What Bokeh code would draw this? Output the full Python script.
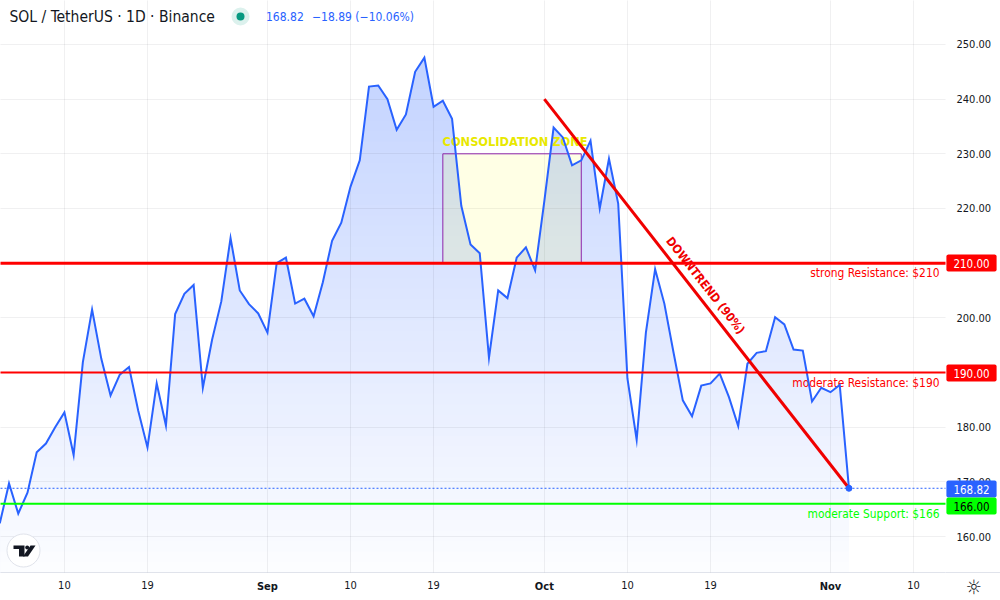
import numpy as np
from bokeh.plotting import figure
from bokeh.layouts import column
from bokeh.models import Label, FixedTicker
from bokeh.embed import file_html
from bokeh.resources import INLINE

# ---- data (day 0 = 3 Aug) ----
prices = [162.4,169.7,164.2,168.0,175.4,177.0,180.0,182.7,174.9,191.9,201.5,192.5,185.8,189.6,191.0,183.0,
          176.3,188.0,180.3,200.7,204.4,206.0,187.2,196.0,203.0,214.6,205.0,202.5,200.8,197.3,210.0,211.0,
          202.6,203.5,200.3,206.5,214.1,217.4,224.0,228.8,242.3,242.5,240.0,234.4,237.2,245.0,247.6,238.6,
          239.7,236.4,220.5,213.4,211.8,192.7,205.0,203.6,211.0,212.9,208.7,221.4,234.8,233.0,227.9,228.8,
          232.4,220.0,229.1,220.9,188.9,177.7,197.3,208.9,202.6,193.6,184.9,182.0,187.6,188.0,189.8,185.5,
          180.2,191.6,193.6,193.9,200.1,198.8,194.2,194.0,184.7,187.2,186.4,187.71,168.82]
x_ticks = [7,16,29,38,47,59,68,77,90,99]
x_labels = ["10","19","Sep","10","19","Oct","10","19","Nov","10"]
y_ticks = [160,170,180,190,200,210,220,230,240,250]
trend_x = [59,92]
trend_y = [240,168.82]
zone_x = [48,63]
zone_y = [210,230]
levels = [210,190,166]
level_colors = ["#ff0000","#ff0000","#00ff00"]
level_widths = [3,2,2]
level_notes = ["strong Resistance: $210","moderate Resistance: $190","moderate Support: $166"]
last = prices[-1]

FONT = "DejaVu Sans Condensed"
DARK = "#131722"
BLUE = "#2962ff"
W, H = 1000, 600
F_R, F_B = 945, 572   # frame edges in picture pixels

def X(px): return 7 + (px - 63.9) / 9.23
def Y(py): return 160 + (536 - py) / 5.467

p = figure(width=W, height=H, output_backend="svg", toolbar_location=None,
           x_range=(X(0), X(F_R)), y_range=(Y(F_B), Y(0)),
           y_axis_location="right", min_border_left=0, min_border_top=0,
           min_border_right=W - F_R, min_border_bottom=H - F_B,
           outline_line_color=None, background_fill_color="white", border_fill_color="white")

# transparent layer over the whole picture for what lies outside the plot frame
q = figure(frame_width=W, frame_height=H, output_backend="svg", toolbar_location=None,
           x_range=(0, W), y_range=(H, 0), x_axis_type=None, y_axis_type=None,
           min_border_left=0, min_border_right=0, min_border_top=0, min_border_bottom=0,
           outline_line_color=None, background_fill_color=None, border_fill_color=None,
           margin=(-H, 0, 0, 0))
q.grid.visible = False

# axes
ax = p.xaxis[0]
ax.ticker = FixedTicker(ticks=x_ticks)
ax.major_label_overrides = {t: ("" if l in ("Sep","Oct","Nov") else l) for t, l in zip(x_ticks, x_labels)}
ax.major_tick_line_color = None
ax.minor_tick_line_color = None
ax.axis_line_color = "#e0e3eb"
ax.major_label_text_color = DARK
ax.major_label_text_font = FONT
ax.major_label_text_font_size = "11px"
ax.major_label_standoff = 2

ay = p.yaxis[0]
ay.ticker = FixedTicker(ticks=y_ticks)
ay.major_label_overrides = {t: f"{t:.2f}" for t in y_ticks}
ay.major_tick_line_color = None
ay.minor_tick_line_color = None
ay.axis_line_color = None
ay.major_label_text_color = DARK
ay.major_label_text_font = FONT
ay.major_label_text_font_size = "11px"
ay.major_label_standoff = 5

for g in (p.xgrid[0], p.ygrid[0]):
    g.grid_line_color = "#2a2e39"
    g.grid_line_alpha = 0.07
    g.level = "annotation"
p.xgrid[0].ticker = FixedTicker(ticks=x_ticks)
p.ygrid[0].ticker = FixedTicker(ticks=y_ticks)

# gradient area
days = np.arange(len(prices))
fx = np.linspace(0, days[-1], days[-1] * 8 + 1)
fy = np.interp(fx, days, prices)
N = 50
y_bot = Y(F_B)
y_top = max(prices)
for k in range(N):
    t = k / (N - 1)
    lev = y_top + (y_bot - y_top) * t
    a = 0.28 + (0.01 - 0.28) * t
    col = "#%02x%02x%02x" % (round(255 + (41 - 255) * a), round(255 + (98 - 255) * a), 255)
    p.varea(fx, y1=y_bot, y2=np.minimum(fy, lev), fill_color=col, fill_alpha=1, level="glyph")

# consolidation zone
p.quad(left=[zone_x[0]], right=[zone_x[1]], bottom=[zone_y[0]], top=[zone_y[1]],
       fill_color="#ffff00", fill_alpha=0.1, line_color="#8e24aa", line_width=1, level="overlay")

# price line
p.line(days, prices, line_color=BLUE, line_width=2, line_join="miter", level="overlay")
p.line([X(0), X(F_R)], [last, last], line_color=BLUE, line_width=1, line_dash="2 2", level="overlay")

# levels
for lv, c, w in zip(levels, level_colors, level_widths):
    p.line([X(0), X(F_R)], [lv, lv], line_color=c, line_width=w, level="overlay")

# trend line
p.line(trend_x, trend_y, line_color="#f00000", line_width=3, level="overlay")
p.scatter([days[-1]], [last], size=6, fill_color=BLUE, line_color=BLUE, level="overlay")

def lab(px, py, text, color=DARK, size="12px", align="left", style="normal", fig=p, **kw):
    l = Label(x=px, y=py, x_units="canvas", y_units="canvas", text=text, text_color=color,
              text_font=FONT, text_font_size=size, text_align=align, text_baseline="middle",
              text_font_style=style, **kw)
    fig.add_layout(l)

# month ticks
for t, l in zip(x_ticks, x_labels):
    if l in ("Sep","Oct","Nov"):
        lab(63.9 + (t - 7) * 9.23, 586, l, align="center", size="11px", style="bold", fig=q)

# header
lab(9, 16, "SOL / TetherUS · 1D · Binance", size="15.5px")
p.scatter([X(240)], [Y(16)], size=18, fill_color="#dcf1ed", line_color=None, level="overlay")
p.scatter([X(240)], [Y(16)], size=8, fill_color="#089981", line_color=None, level="overlay")
lab(265.5, 16, "168.82", color=BLUE, size="12px")
lab(311.5, 16, "−18.89 (−10.06%)", color=BLUE, size="12px")

# annotations
lab(442, 141, "CONSOLIDATION ZONE", color="#e8e800", size="12.7px", style="bold")
lab(705, 285, "DOWNTREND (90%)", color="#f00000", size="12px", align="center", style="bold",
    angle=-51.9, angle_units="deg")
for py, c, n in zip([272, 382, 513], level_colors, level_notes):
    lab(939, py, n, color=c, align="right", size="11.9px")

# price badges
for py, v, bg, fg in [(262.5, "210.00", "#ff0000", "white"), (372.5, "190.00", "#ff0000", "white"),
                      (488.5, "168.82", BLUE, "white"), (505.5, "166.00", "#00ff00", "black")]:
    lab(971, py, v, color=fg, align="center", size="11.5px", background_fill_color=bg,
        padding=(7, 4), border_radius=2, fig=q)

# logo + settings glyph
p.scatter([X(23)], [Y(550)], size=33, fill_color="white", line_color="#e0e3eb", line_width=1, level="overlay")
p.patch([X(v) for v in (13,24,24,18.5,18.5,13)], [Y(v) for v in (545,545,556,556,548.5,548.5)],
        fill_color=DARK, line_color=None, level="overlay")
p.scatter([X(26.7)], [Y(547)], size=4, fill_color=DARK, line_color=None, level="overlay")
p.patch([X(v) for v in (30,35,27.5,22.5)], [Y(v) for v in (545,545,556,556)],
        fill_color=DARK, line_color=None, level="overlay")
lab(973, 586, "☼", size="20px", align="center", fig=q)
q.line([F_R, W], [F_B, F_B], line_color="#e0e3eb", line_width=1)

open("out.html", "w").write(file_html(column(p, q, spacing=0), INLINE))
